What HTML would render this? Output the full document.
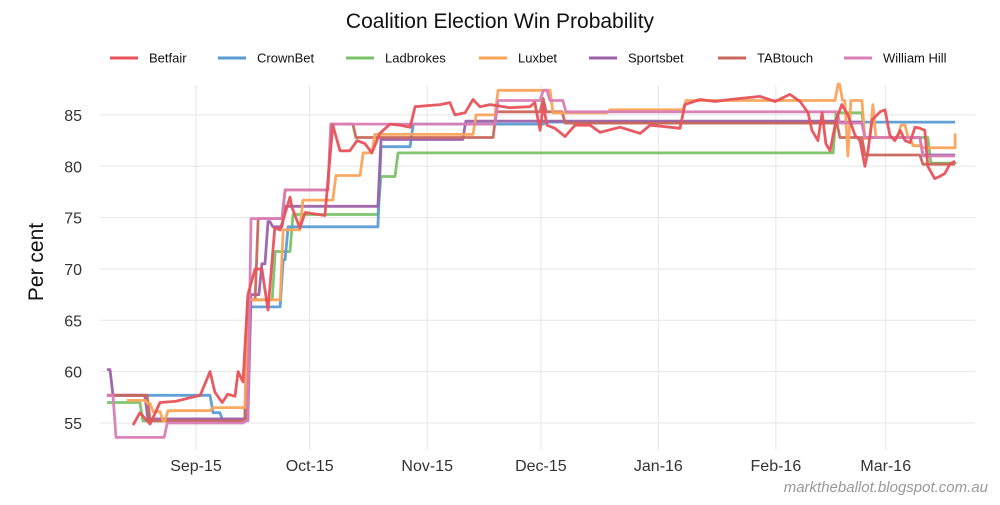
<!DOCTYPE html>
<html><head><meta charset="utf-8"><style>
body{margin:0;background:#fff;font-family:"Liberation Sans",sans-serif}
svg text{font-family:"Liberation Sans",sans-serif}
</style></head><body>
<svg id="chart" width="1000" height="500" viewBox="0 0 1000 500">
<text x="500" y="28" text-anchor="middle" font-size="21" fill="#111">Coalition Election Win Probability</text>
<g id="grid"></g>
<g id="yticks"></g>
<g id="xticks"></g>
<text transform="translate(43,262) rotate(-90)" text-anchor="middle" font-size="21" fill="#111">Per cent</text>
<g id="series"></g>
<g id="legend"></g>
<text x="988" y="492" text-anchor="end" font-size="15" font-style="italic" fill="#999">marktheballot.blogspot.com.au</text>
</svg>
<script>
// days since 1 Sep 2015, values in per cent
const yTicks=[55,60,65,70,75,80,85];
const xTickDays=[0,30,61,91,122,153,182];
const xTickLabels=["Sep-15","Oct-15","Nov-15","Dec-15","Jan-16","Feb-16","Mar-16"];
const names=["Betfair","CrownBet","Ladbrokes","Luxbet","Sportsbet","TABtouch","William Hill"];
const colors=["#e8525a","#5a9bd4","#79c267","#faa45a","#9c62a8","#c8675a","#d97db6"];
// step series: [startDay, value]
const crownbet=[[-23.5,57.7],[3.7,56],[6.3,55.2],[12.9,66.3],[22.2,70.9],[23.5,74.1],[48,81.9],[56.5,84.1],[91.6,84.3],[200.3,84.3]];
const ladbrokes=[[-23.5,57],[-14.8,55.2],[12.9,67],[20.1,71.7],[24.8,75.3],[48,79],[52.5,81.3],[168.1,85.2],[175.7,82.8],[193.1,80.3],[200.3,80.2]];
const sportsbet=[[-23.5,60.2],[-22.7,57.7],[-13.5,55.4],[13.7,67.5],[16.6,70.5],[18.2,74.6],[19.5,74.1],[22.7,76.1],[48,82.6],[70.4,84.4],[169.1,84.3],[175.7,82.8],[191,81.1],[200.3,81.1]];
const tabtouch=[[-23.5,57.7],[-12.9,55.2],[12.9,67],[15.6,74.9],[22.7,77.7],[34.8,84.1],[41.4,82.8],[78.4,85.3],[90.8,86.6],[91.6,85.3],[96.6,84.2],[169.1,82.8],[175.7,81.1],[191,80.2],[200.3,80.2]];
const williamhill=[[-23.5,57.7],[-21.9,53.6],[-8.4,55],[12.4,55.2],[13.7,74.9],[22.7,77.7],[34.8,84.1],[78.9,86.4],[90.8,87.4],[92.6,86.4],[96.8,85.3],[169.1,84.2],[175.7,82.8],[191,81],[200.3,81]];
const luxbet=[[-18.2,57.2],[-13.5,56.9],[-12.1,56.1],[-9.5,55.2],[-8.2,56.2],[3.7,56.5],[12.9,67],[22.2,73.8],[27.4,76.7],[36.1,79.1],[43.3,81.3],[46.4,83.1],[73.1,85],[78.9,87.4],[93.4,85.2],[108.4,85.5],[128.5,86.4],[168.6,88],[169.8,86.4],[171.2,81],[172,86.4],[175.7,82.7],[177.8,86],[178.6,82.8],[185.2,84],[187.1,82.8],[188.4,82],[191,81.8],[198.9,81.8],[200.3,83.2]];
// Betfair is noisy: plotted point to point
const betfairDays=[-16.6,-14.8,-12.1,-9.5,-5.5,1.1,3.7,5,6.9,8.4,10.3,11.1,12.4,13.7,15.6,17.4,19,20.8,22.2,24.8,25.3,27.4,28.8,34,36.1,38,40.6,42.5,44.6,46.4,48.5,51.2,53.8,56.5,57.8,64.4,67,68.3,71,73.1,74.9,77.6,82.8,88.1,89.4,90.8,91.6,92.6,94.7,97.4,100,104,106.6,111.9,117.2,119.8,125.1,127.7,129,133,137,140.9,148.8,152.8,156.7,159.4,161.5,162.5,164.1,165.2,166.2,167.3,168.9,170.4,172,173.9,175.2,176.5,177.3,178.4,180.5,181.8,183.1,184.4,185.8,187.1,188.4,189.7,191,192.3,193.1,194.9,196.2,197.6,198.9,200.3];
const betfairVals=[54.8,56,54.9,57,57.1,57.7,60,58,57,57.8,57.6,60,59,67.5,70,70,66,74,73.8,77,76,74,75.5,75.2,84,81.5,81.5,82.5,82.2,81.3,83.2,84.1,84,83.8,85.8,86,86.2,85,85.2,86.5,85.8,86,85.7,85.8,86.2,83.5,86,84,83.7,82.9,84,84,83.3,83.8,83.2,84,83.8,83.7,86,86.5,86.3,86.5,86.8,86.3,87,86.3,85.2,83.5,82.5,85.2,82.2,81.5,84.5,86,85,83,82.5,80,81.5,84.5,85.3,85.5,83,82.5,83.5,82.5,82.3,83.8,83.7,83.5,80,78.8,79,79.3,80.2,80.5,79.3];

const NS="http://www.w3.org/2000/svg";
const X0=196, PXD=3.79, Y55=423, PXU=10.27;
const xs=d=>X0+d*PXD;
const ys=v=>Y55-(v-55)*PXU;
function mk(tag,attrs,parent){const e=document.createElementNS(NS,tag);for(const k in attrs)e.setAttribute(k,attrs[k]);parent.appendChild(e);return e;}
const grid=document.getElementById('grid'),yt=document.getElementById('yticks'),xt=document.getElementById('xticks');
yTicks.forEach(v=>{
  const l=mk('line',{x1:100,x2:975,y1:ys(v),y2:ys(v),stroke:'#e6e6e6','stroke-width':1},grid);
  
  
  const t=mk('text',{x:82,y:ys(v)+6,'text-anchor':'end','font-size':16,fill:'#333'},yt);
  t.textContent=v;
  
  
});
xTickDays.forEach((d,i)=>{
  const l=mk('line',{x1:xs(d),x2:xs(d),y1:85,y2:450,stroke:'#e6e6e6','stroke-width':1},grid);
  
  
  const t=mk('text',{x:xs(d),y:471,'text-anchor':'middle','font-size':16,fill:'#333'},xt);
  t.textContent=xTickLabels[i];
  
  
});
function stepPts(s){const p=[];for(let i=0;i<s.length;i++){const[d,v]=s[i];if(i>0){p.push([d,s[i-1][1]]);}p.push([i>0&&i<s.length-1?d+0.8:d,v]);}return p;}
const sg=document.getElementById('series');
const seriesPts=[
  betfairDays.map((d,i)=>[d,betfairVals[i]]),
  stepPts(crownbet),stepPts(ladbrokes),stepPts(luxbet),stepPts(sportsbet),stepPts(tabtouch),stepPts(williamhill)];
const order=[2,1,4,5,3,6,0];
order.forEach(k=>{
  const pts=seriesPts[k].map(([d,v])=>xs(d).toFixed(1)+','+ys(v).toFixed(1)).join(' ');
  const pl=mk('polyline',{points:pts,fill:'none',stroke:colors[k],'stroke-width':2.8,'stroke-linejoin':'round','stroke-opacity':0.95},sg);
  
  
});
const lg=document.getElementById('legend');
const lx=[110,218,346,479,589,718,844];
names.forEach((n,i)=>{
  const g=mk('g',{},lg);
  
  
  mk('line',{x1:lx[i],x2:lx[i]+28,y1:58,y2:58,stroke:colors[i],'stroke-width':3},g);
  const t=mk('text',{x:lx[i]+39,y:62.5,'font-size':13,fill:'#111'},g);
  t.textContent=n;
});
</script>
</body></html>
